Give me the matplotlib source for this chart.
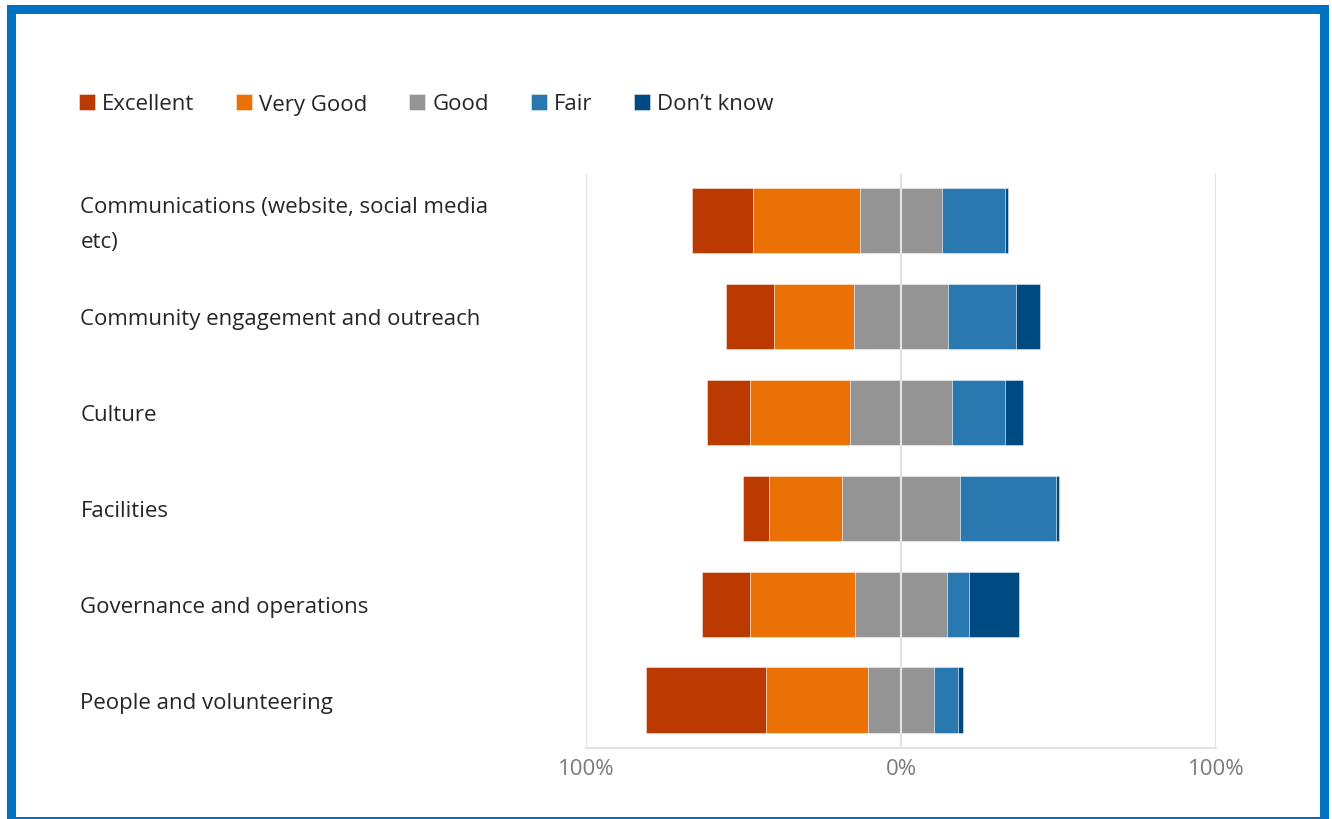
import matplotlib.pyplot as plt
from matplotlib.patches import Rectangle
from matplotlib.transforms import ScaledTranslation
import numpy as np

plt.rcParams['font.family'] = ['Open Sans', 'DejaVu Sans']

categories = [
    'Communications (website, social media\netc)',
    'Community engagement and outreach',
    'Culture',
    'Facilities',
    'Governance and operations',
    'People and volunteering',
]
levels = ['Excellent', 'Very Good', 'Good', 'Fair', 'Don\u2019t know']
colors = ['#BA3A02', '#EA7106', '#949494', '#2A78B0', '#004A82']

# percent of answers per category
excellent = [19.2, 15.2, 13.7, 8.3, 15.2, 37.9]
very_good = [34.0, 25.3, 31.6, 23.2, 33.5, 32.4]
good = [26.0, 30.0, 32.4, 37.5, 28.9, 21.0]
fair = [20.0, 21.6, 16.9, 30.3, 7.1, 7.7]
dont_know = [1.0, 7.6, 5.6, 1.2, 15.8, 1.5]

tick_pos = [-100, 0, 100]
tick_text = ['100%', '0%', '100%']

W, H = 1332, 820
fig = plt.figure(figsize=(W / 100, H / 100), dpi=100)
ax = fig.add_axes([586 / W, 71 / H, 630 / W, 575.5 / H])

series = np.array([excellent, very_good, good, fair, dont_know])
y = np.arange(len(categories))
# diverging: Good straddles zero
left = -(series[0] + series[1] + series[2] / 2)
for vals, name, c in zip(series, levels, colors):
    ax.barh(y, vals, left=left, height=0.68, color=c, label=name,
            edgecolor=(1, 1, 1, 0.5), linewidth=0.6, zorder=2)
    left = left + vals

grid_c = '#e3e3e3'
for x in tick_pos:
    ax.axvline(x, color=grid_c, lw=1.6, zorder=3 if x == 0 else 1)

ax.set_xlim(-100, 100)
ax.set_ylim(len(categories) - 0.5, -0.5)
ax.set_xticks(tick_pos, tick_text)
ax.set_yticks(y, categories)
ax.tick_params(axis='x', length=0, pad=7, labelsize=16, labelcolor='#7a7a7a')
ax.tick_params(axis='y', length=0, pad=364, labelsize=16, labelcolor='#262626')
for lab in ax.get_yticklabels():
    lab.set_horizontalalignment('left')
    lab.set_linespacing(1.9)
    if '\n' in lab.get_text():
        # wrapped label: centre the whole block, nudged a little lower
        lab.set_verticalalignment('center')
        lab.set_transform(lab.get_transform() +
                          ScaledTranslation(0, -0.035, fig.dpi_scale_trans))
for s in ['top', 'left', 'right']:
    ax.spines[s].set_visible(False)
ax.spines['bottom'].set_color(grid_c)
ax.spines['bottom'].set_linewidth(1.6)

fig.legend(loc='center left', bbox_to_anchor=(79 / W, 1 - 105 / H), ncol=5,
           frameon=False, fontsize=16, handlelength=0.72, handleheight=0.72,
           handletextpad=0.32, columnspacing=1.88, borderpad=0, borderaxespad=0,
           labelcolor='#262626')

# blue frame
blue = '#0070C0'
for x0, y0, w, h in [(7, 6, 9, 814), (1320, 6, 9, 814), (7, 6, 1322, 9), (7, 818, 1322, 2)]:
    fig.patches.append(Rectangle((x0 / W, 1 - (y0 + h) / H), w / W, h / H,
                                 transform=fig.transFigure, color=blue, lw=0))

fig.savefig('out.png', dpi=100)
